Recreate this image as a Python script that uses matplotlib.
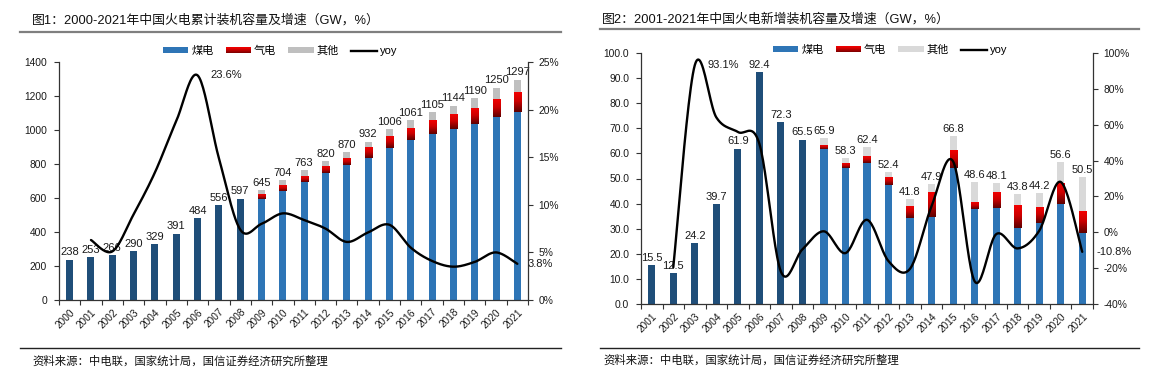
import numpy as np
import matplotlib
matplotlib.use('Agg')
import matplotlib.pyplot as plt
from matplotlib.colors import LinearSegmentedColormap
from matplotlib.patches import Rectangle, Patch
from matplotlib.lines import Line2D
from matplotlib.legend_handler import HandlerBase

plt.rcParams['font.family'] = ['Liberation Sans', 'Noto Sans CJK SC', 'DejaVu Sans']

# ---------------- data: chart 1 (cumulative capacity, GW) ----------------
years1 = ['2000', '2001', '2002', '2003', '2004', '2005', '2006', '2007', '2008', '2009', '2010',
          '2011', '2012', '2013', '2014', '2015', '2016', '2017', '2018', '2019', '2020', '2021']
total1 = [238, 253, 266, 290, 329, 391, 484, 556, 597, 645, 704,
          763, 820, 870, 932, 1006, 1061, 1105, 1144, 1190, 1250, 1297]
coal1 = [238, 253, 266, 290, 329, 391, 484, 556, 597, 594, 643,
         696, 749, 794, 837, 896, 943, 978, 1007, 1037, 1078, 1107]
gas1 = [0, 0, 0, 0, 0, 0, 0, 0, 0, 25, 31,
        33, 41, 41, 59, 68, 68, 79, 85, 94, 104, 112]
other1 = [0, 0, 0, 0, 0, 0, 0, 0, 0, 26, 30,
          34, 30, 35, 36, 42, 50, 48, 52, 59, 68, 78]
yoy1_years = ['2001', '2002', '2003', '2004', '2005', '2006', '2007', '2008', '2009', '2010',
              '2011', '2012', '2013', '2014', '2015', '2016', '2017', '2018', '2019', '2020', '2021']
yoy1 = [6.3, 5.1, 9.0, 13.4, 18.8, 23.6, 14.9, 7.4, 8.0, 9.1,
        8.4, 7.5, 6.1, 7.1, 7.9, 5.5, 4.1, 3.5, 4.0, 5.0, 3.8]

# ---------------- data: chart 2 (new additions, GW) ----------------
years2 = ['2001', '2002', '2003', '2004', '2005', '2006', '2007', '2008', '2009', '2010',
          '2011', '2012', '2013', '2014', '2015', '2016', '2017', '2018', '2019', '2020', '2021']
total2 = [15.5, 12.5, 24.2, 39.7, 61.9, 92.4, 72.3, 65.5, 65.9, 58.3,
          62.4, 52.4, 41.8, 47.9, 66.8, 48.6, 48.1, 43.8, 44.2, 56.6, 50.5]
coal2 = [15.5, 12.5, 24.2, 39.7, 61.9, 92.4, 72.3, 65.5, 61.8, 54.0,
         56.3, 47.4, 34.4, 34.8, 54.0, 38.0, 38.4, 30.5, 32.2, 40.0, 28.2]
gas2 = [0, 0, 0, 0, 0, 0, 0, 0, 1.2, 1.6,
        2.6, 3.1, 4.7, 9.6, 7.1, 2.4, 6.0, 9.0, 6.2, 8.3, 8.6]
other2 = [0, 0, 0, 0, 0, 0, 0, 0, 2.9, 2.7,
          3.5, 1.9, 2.7, 3.5, 5.7, 8.2, 3.7, 4.3, 5.8, 8.3, 13.7]
yoy2_years = ['2002', '2003', '2004', '2005', '2006', '2007', '2008', '2009', '2010',
              '2011', '2012', '2013', '2014', '2015', '2016', '2017', '2018', '2019', '2020', '2021']
yoy2 = [-19.4, 93.1, 64.0, 55.9, 49.3, -21.8, -9.4, 0.6, -11.5,
        7.0, -16.0, -20.2, 14.6, 39.5, -27.2, -1.0, -8.9, 0.9, 28.1, -10.8]

legend_labels = ['煤电', '气电', '其他', 'yoy']

# ---------------- style ----------------
DARK = '#1F4E79'
BLUE = '#2E75B6'
GREY1 = '#BFBFBF'
GREY2 = '#D9D9D9'
TXT = '#1a1a1a'
red_cmap = LinearSegmentedColormap.from_list(
    'redgrad', [(0.0, '#5E0000'), (0.55, '#CC0000'), (1.0, '#F20000')])


def smooth(x, y, n=24):
    P = np.column_stack([np.asarray(x, float), np.asarray(y, float)])
    out = []
    for i in range(len(P) - 1):
        p0 = P[i - 1] if i > 0 else P[i]
        p1, p2 = P[i], P[i + 1]
        p3 = P[i + 2] if i + 2 < len(P) else P[i + 1]
        c1 = p1 + (p2 - p0) / 6.0
        c2 = p2 - (p3 - p1) / 6.0
        t = np.linspace(0, 1, n)[:, None]
        seg = (1 - t) ** 3 * p1 + 3 * (1 - t) ** 2 * t * c1 + 3 * (1 - t) * t ** 2 * c2 + t ** 3 * p2
        out.append(seg if i == 0 else seg[1:])
    s = np.vstack(out)
    return s[:, 0], s[:, 1]


class GradHandler(HandlerBase):
    def create_artists(self, legend, orig_handle, xdescent, ydescent, width, height, fontsize, trans):
        arts = []
        k = 8
        for j in range(k):
            r = Rectangle((-xdescent, -ydescent + height * j / k), width, height / k + 0.01,
                          facecolor=red_cmap((j + 0.5) / k), edgecolor='none', transform=trans)
            arts.append(r)
        return arts


def panel(ax, cats, coal, gas, other, totals, n_early, grey, ylim, yticks, yfmt,
          ylim2, yticks2, yoy_cats, yoy, peak_idx, peak_lbl, end_lbl, lblfmt, end_off):
    x = np.arange(len(cats))
    w = 0.33
    colors = [DARK if i < n_early else BLUE for i in range(len(cats))]
    ax.bar(x, coal, w, color=colors, zorder=2, linewidth=0)
    gbars = ax.bar(x, gas, w, bottom=coal, color='none', zorder=2, linewidth=0)
    grad = np.linspace(0, 1, 64).reshape(-1, 1)
    for r, g in zip(gbars, gas):
        if g > 0:
            x0 = r.get_x()
            y0 = r.get_y()
            ax.imshow(grad, extent=(x0, x0 + r.get_width(), y0, y0 + r.get_height()),
                      origin='lower', aspect='auto', cmap=red_cmap, zorder=2.2,
                      interpolation='bilinear')
    bottom2 = np.array(coal) + np.array(gas)
    ax.bar(x, other, w, bottom=bottom2, color=grey, zorder=2, linewidth=0)
    for xi, t in zip(x, totals):
        ax.annotate(lblfmt.format(t), (xi, t), xytext=(0, 1.5), textcoords='offset points',
                    ha='center', va='bottom', fontsize=8, color=TXT, zorder=5)

    ax.set_xlim(-0.5, len(cats) - 0.5)
    ax.set_ylim(*ylim)
    ax.set_yticks(yticks)
    ax.set_yticklabels([yfmt.format(v) for v in yticks], fontsize=7.4, color=TXT)
    ax.set_xticks(x)
    ax.set_xticklabels(cats, rotation=45, ha='right', va='top', rotation_mode='anchor',
                       fontsize=7.2, color=TXT)
    ax.set_xticks(np.arange(len(cats) + 1) - 0.5, minor=True)
    ax.tick_params(axis='x', which='major', length=0, pad=5)
    ax.tick_params(axis='x', which='minor', length=3.5, width=0.8, color='#333333')
    ax.tick_params(axis='y', which='major', length=3.5, width=0.8, color='#333333', pad=5)
    for s in ['top', 'right']:
        ax.spines[s].set_visible(False)
    for s in ['left', 'bottom']:
        ax.spines[s].set_color('#333333')
        ax.spines[s].set_linewidth(0.9)

    ax2 = ax.twinx()
    ax2.set_ylim(*ylim2)
    ax2.set_yticks(yticks2)
    ax2.set_yticklabels(['{:.0f}%'.format(v) for v in yticks2], fontsize=7.4, color=TXT)
    ax2.tick_params(axis='y', length=3.5, width=0.8, color='#333333', pad=4)
    for s in ['top', 'left', 'bottom']:
        ax2.spines[s].set_visible(False)
    ax2.spines['right'].set_color('#333333')
    ax2.spines['right'].set_linewidth(0.9)
    xi = [cats.index(c) for c in yoy_cats]
    sx, sy = smooth(xi, yoy)
    ax2.plot(sx, sy, color='black', lw=1.7, solid_capstyle='round', zorder=4)
    ax2.set_xlim(-0.5, len(cats) - 0.5)
    pk = yoy_cats.index(peak_idx)
    ax2.annotate(peak_lbl, (xi[pk], yoy[pk]), xytext=(9, 0), textcoords='offset points',
                 ha='left', va='center', fontsize=8, color=TXT)
    ax2.annotate(end_lbl, (xi[-1], yoy[-1]), xytext=(end_off, 0), textcoords='offset points',
                 ha='left', va='center', fontsize=8, color=TXT)
    return ax2


fig = plt.figure(figsize=(11.72, 3.88), dpi=100)
W, H = 1172.0, 388.0


def fx(px):
    return px / W


def fy(py):
    return 1 - py / H


# chart 1
ax1 = fig.add_axes([fx(59), fy(300), fx(528 - 59), (300 - 62) / H])
panel(ax1, years1, coal1, gas1, other1, total1, 9, GREY1,
      (0, 1400), list(range(0, 1401, 200)), '{:.0f}',
      (0, 25), list(range(0, 26, 5)), yoy1_years, yoy1,
      '2006', '23.6%', '3.8%', '{:.0f}', 7)

# chart 2
axb = fig.add_axes([fx(641), fy(304.3), fx(1093 - 641), (304.3 - 52.7) / H])
panel(axb, years2, coal2, gas2, other2, total2, 8, GREY2,
      (0, 100), list(range(0, 101, 10)), '{:.1f}',
      (-40, 100), list(range(-40, 101, 20)), yoy2_years, yoy2,
      '2003', '93.1%', '-10.8%', '{:.1f}', 10)

# titles, rules, sources
fig.text(fx(32), fy(20), '图1：2000-2021年中国火电累计装机容量及增速（GW，%）',
         fontsize=9.3, ha='left', va='center', color='#111111')
fig.text(fx(602), fy(19), '图2：2001-2021年中国火电新增装机容量及增速（GW，%）',
         fontsize=9.3, ha='left', va='center', color='#111111')
fig.add_artist(Line2D([fx(20), fx(561)], [fy(31.7), fy(31.7)], color='#7f7f7f', lw=1.6))
fig.add_artist(Line2D([fx(600), fx(1139)], [fy(29.3), fy(29.3)], color='#7f7f7f', lw=1.6))
fig.add_artist(Line2D([fx(20), fx(561)], [fy(348.3), fy(348.3)], color='#222222', lw=1.0))
fig.add_artist(Line2D([fx(600), fx(1139)], [fy(348.3), fy(348.3)], color='#222222', lw=1.0))
fig.text(fx(32), fy(361), '资料来源：中电联，国家统计局，国信证券经济研究所整理',
         fontsize=8.2, ha='left', va='center', color='#111111')
fig.text(fx(603), fy(360), '资料来源：中电联，国家统计局，国信证券经济研究所整理',
         fontsize=8.2, ha='left', va='center', color='#111111')

# legends
for cx, cy, grey in [(280, 51, GREY1), (890, 50, GREY2)]:
    handles = [Patch(facecolor=BLUE, edgecolor='none'),
               Patch(facecolor='#C00000', edgecolor='none'),
               Patch(facecolor=grey, edgecolor='none'),
               Line2D([0], [0], color='black', lw=1.7)]
    fig.legend(handles, legend_labels, loc='center', bbox_to_anchor=(fx(cx), fy(cy)),
               ncol=4, frameon=False, fontsize=8, handlelength=2.3, handleheight=0.5,
               handletextpad=0.25, columnspacing=1.1, borderaxespad=0, borderpad=0,
               handler_map={handles[1]: GradHandler()})

fig.savefig('out.png', dpi=100)
